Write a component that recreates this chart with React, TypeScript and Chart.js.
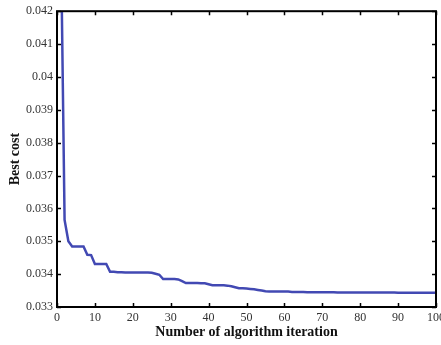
import React, { useEffect, useRef } from "react";
import { Chart, registerables } from "chart.js";

Chart.register(...registerables);

const iterations: number[] = Array.from({ length: 100 }, (_, i) => i + 1);

const bestCost: number[] = [
  0.0445, 0.03565, 0.03500, 0.03484, 0.03484, 0.03484, 0.03484, 0.03459, 0.03458, 0.03431,
  0.03431, 0.03431, 0.03431, 0.03407, 0.03407, 0.03406, 0.03406, 0.03405, 0.03405, 0.03405,
  0.03405, 0.03405, 0.03405, 0.03405, 0.03404, 0.03401, 0.03398, 0.03385, 0.03385, 0.03385,
  0.03385, 0.03384, 0.03379, 0.03373, 0.03373, 0.03373, 0.03373, 0.03372, 0.03372, 0.03369,
  0.03366, 0.03366, 0.03366, 0.03366, 0.03365, 0.03363, 0.03360, 0.03357, 0.03357, 0.03356,
  0.03355, 0.03354, 0.03352, 0.03350, 0.03348, 0.03347, 0.03347, 0.03347, 0.03347, 0.03347,
  0.03347, 0.03346, 0.03346, 0.03346, 0.03346, 0.03345, 0.03345, 0.03345, 0.03345, 0.03345,
  0.03345, 0.03345, 0.03345, 0.03344, 0.03344, 0.03344, 0.03344, 0.03344, 0.03344, 0.03344,
  0.03344, 0.03344, 0.03344, 0.03344, 0.03344, 0.03344, 0.03344, 0.03344, 0.03344, 0.03343,
  0.03343, 0.03343, 0.03343, 0.03343, 0.03343, 0.03343, 0.03343, 0.03343, 0.03343, 0.03343,
];

const xTicks: number[] = [0, 10, 20, 30, 40, 50, 60, 70, 80, 90, 100];
const yTicks: number[] = [0.033, 0.034, 0.035, 0.036, 0.037, 0.038, 0.039, 0.04, 0.041, 0.042];

const xTitle = "Number of algorithm iteration";
const yTitle = "Best cost";

const SERIF = "'Liberation Serif', 'Times New Roman', serif";

const boxTicksPlugin = {
  id: "boxTicks",
  afterDraw(chart: any) {
    const { ctx, chartArea } = chart;
    const { left, right, top, bottom } = chartArea;
    const xs = chart.scales.x;
    const ys = chart.scales.y;
    const len = 4;
    ctx.save();
    ctx.strokeStyle = "#000";
    ctx.lineWidth = 1.5;
    ctx.beginPath();
    xTicks.forEach((v) => {
      const px = Math.round(xs.getPixelForValue(v)) + 0.5;
      ctx.moveTo(px, bottom);
      ctx.lineTo(px, bottom - len);
      ctx.moveTo(px, top);
      ctx.lineTo(px, top + len);
    });
    yTicks.forEach((v) => {
      const py = Math.round(ys.getPixelForValue(v)) + 0.5;
      ctx.moveTo(left, py);
      ctx.lineTo(left + len, py);
      ctx.moveTo(right, py);
      ctx.lineTo(right - len, py);
    });
    ctx.stroke();
    ctx.lineWidth = 2;
    ctx.strokeRect(left, top, right - left, bottom - top);
    ctx.restore();
  },
};

export default function App() {
  const ref = useRef<HTMLCanvasElement | null>(null);

  useEffect(() => {
    if (!ref.current) return;
    const chart = new Chart(ref.current, {
      type: "line",
      data: {
        datasets: [
          {
            data: iterations.map((x, i) => ({ x, y: bestCost[i] })),
            borderColor: "#4249b3",
            borderWidth: 2.5,
            pointRadius: 0,
            tension: 0,
            fill: false,
          },
        ],
      },
      options: {
        animation: false,
        responsive: false,
        events: [],
        layout: { padding: { left: 0, top: 9, right: 14, bottom: 0 } },
        plugins: { legend: { display: false }, tooltip: { enabled: false } },
        scales: {
          x: {
            type: "linear",
            min: 0,
            max: 100,
            afterBuildTicks: (s: any) => {
              s.ticks = xTicks.map((v) => ({ value: v }));
            },
            afterFit: (s: any) => {
              s.height = 38;
            },
            grid: { display: false, drawTicks: false },
            border: { display: false },
            ticks: {
              padding: 4,
              maxRotation: 0,
              autoSkip: false,
              color: "#333",
              font: { family: SERIF, size: 12 },
              callback: (v: any) => String(v),
            },
            title: {
              display: true,
              text: xTitle,
              color: "#111",
              font: { family: SERIF, size: 14, weight: "bold" },
              padding: { top: 0, bottom: 4 },
            },
          },
          y: {
            type: "linear",
            min: 0.033,
            max: 0.042,
            afterBuildTicks: (s: any) => {
              s.ticks = yTicks.map((v) => ({ value: v }));
            },
            afterFit: (s: any) => {
              s.width = 57;
            },
            grid: { display: false, drawTicks: false },
            border: { display: false },
            ticks: {
              padding: 4,
              autoSkip: false,
              color: "#333",
              font: { family: SERIF, size: 12 },
              callback: (v: any) => String(Math.round(Number(v) * 1000) / 1000),
            },
            title: {
              display: true,
              text: yTitle,
              color: "#111",
              font: { family: SERIF, size: 14, weight: "bold" },
              padding: { top: 7, bottom: 0 },
            },
          },
        },
      },
      plugins: [boxTicksPlugin],
    });
    return () => chart.destroy();
  }, []);

  return (
    <div
      style={{
        position: "fixed",
        left: 0,
        top: 0,
        width: 441,
        height: 345,
        overflow: "hidden",
        background: "#fff",
      }}
    >
      <canvas ref={ref} width={450} height={345} style={{ width: 450, height: 345, display: "block" }} />
    </div>
  );
}
